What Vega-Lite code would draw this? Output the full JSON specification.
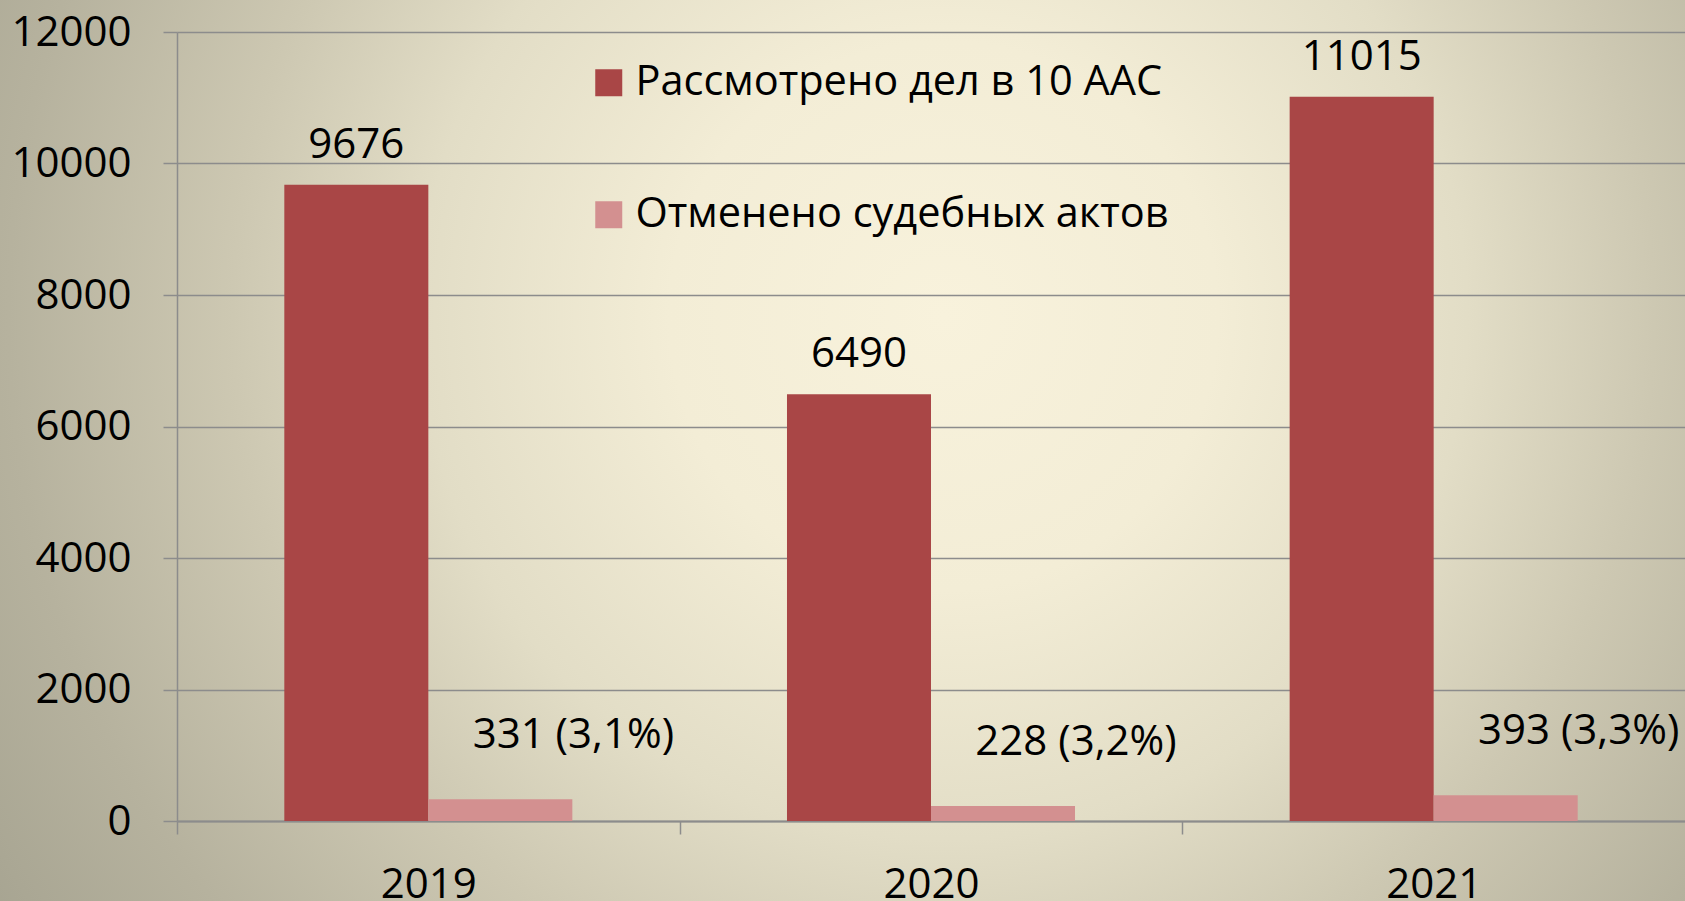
{
  "$schema": "https://vega.github.io/schema/vega-lite/v6.json",
  "width": 1685,
  "height": 901,
  "autosize": {"type": "none"},
  "padding": 0,
  "background": "#b4b09c",
  "config": {
    "font": "Open Sans",
    "view": {
      "stroke": null,
      "fill": {
        "gradient": "radial",
        "x1": 0.56, "y1": 0.42, "r1": 0,
        "x2": 0.56, "y2": 0.42, "r2": 0.74,
        "stops": [
          {"offset": 0, "color": "#f8f2dc"},
          {"offset": 0.22, "color": "#f3edd6"},
          {"offset": 0.42, "color": "#e2ddc6"},
          {"offset": 0.57, "color": "#cdc8b2"},
          {"offset": 0.75, "color": "#b6b29e"},
          {"offset": 0.87, "color": "#aaa794"},
          {"offset": 1, "color": "#9c9a89"}
        ]
      }
    }
  },
  "data": {
    "values": [
      {"year": "2019", "series": "Рассмотрено дел в 10 ААС", "value": 9676, "label": "9676"},
      {"year": "2019", "series": "Отменено судебных актов", "value": 331, "label": "331 (3,1%)"},
      {"year": "2020", "series": "Рассмотрено дел в 10 ААС", "value": 6490, "label": "6490"},
      {"year": "2020", "series": "Отменено судебных актов", "value": 228, "label": "228 (3,2%)"},
      {"year": "2021", "series": "Рассмотрено дел в 10 ААС", "value": 11015, "label": "11015"},
      {"year": "2021", "series": "Отменено судебных актов", "value": 393, "label": "393 (3,3%)"}
    ]
  },
  "encoding": {
    "x": {
      "field": "year", "type": "nominal", "title": null,
      "scale": {"range": [177, 1685], "paddingInner": 0.427, "paddingOuter": 0.2135},
      "axis": {
        "offset": -80,
        "labelAngle": 0, "labelFontSize": 42, "labelColor": "#000000",
        "labelPadding": 30, "tickOffset": -251.33, "labelOffset": 251.33, "tickSize": 13,
        "tickColor": "#8c8c8c", "tickWidth": 1.5,
        "domainColor": "#8c8c8c", "domainWidth": 2, "grid": false
      }
    },
    "xOffset": {
      "field": "series", "type": "nominal",
      "sort": ["Рассмотрено дел в 10 ААС", "Отменено судебных актов"],
      "scale": {"paddingInner": 0, "paddingOuter": 0}
    },
    "y": {
      "field": "value", "type": "quantitative", "title": null,
      "scale": {"domain": [0, 12000], "nice": false, "range": [821, 32]},
      "axis": {
        "offset": -177,
        "values": [0, 2000, 4000, 6000, 8000, 10000, 12000], "format": "d",
        "labelFontSize": 42, "labelColor": "#000000", "labelPadding": 32,
        "tickSize": 14, "tickColor": "#8c8c8c", "tickWidth": 1.5,
        "domainColor": "#8c8c8c", "domainWidth": 1.5,
        "grid": true, "gridColor": "#8c8c8c", "gridWidth": 1.5
      }
    }
  },
  "layer": [
    {
      "mark": {"type": "bar"},
      "encoding": {
        "color": {
          "field": "series", "type": "nominal",
          "scale": {
            "domain": ["Рассмотрено дел в 10 ААС", "Отменено судебных актов"],
            "range": ["#a94646", "#d39090"]
          },
          "legend": {
            "title": null, "orient": "none", "legendX": 588, "legendY": 62,
            "direction": "vertical", "symbolType": "square", "symbolSize": 729,
            "symbolStrokeWidth": 0, "labelFontSize": 41.5, "labelColor": "#000000",
            "labelOffset": 6, "rowPadding": 89, "padding": 0, "labelLimit": 800
          }
        }
      }
    },
    {
      "transform": [{"filter": "datum.series === 'Рассмотрено дел в 10 ААС'"}],
      "mark": {"type": "text", "fontSize": 42, "color": "#000000", "baseline": "middle", "dy": -40},
      "encoding": {"text": {"field": "label"}}
    },
    {
      "transform": [{"filter": "datum.series === 'Отменено судебных актов'"}],
      "mark": {"type": "text", "fontSize": 42, "color": "#000000", "baseline": "middle", "dy": -64, "dx": 73},
      "encoding": {"text": {"field": "label"}}
    }
  ]
}
